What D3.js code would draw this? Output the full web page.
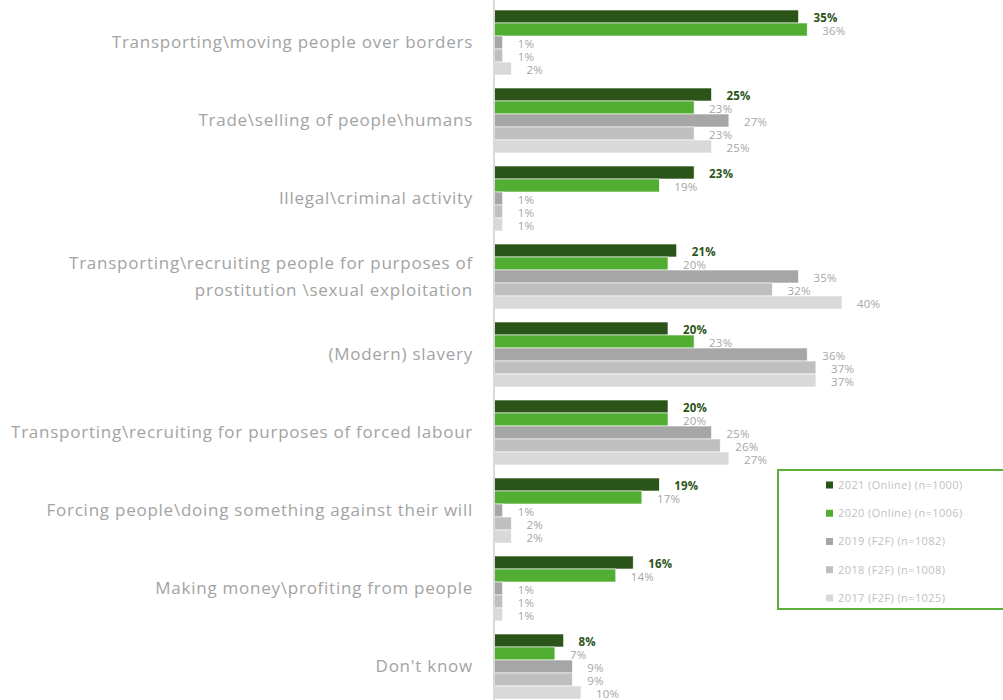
<!DOCTYPE html>
<html>
<head>
<meta charset="utf-8">
<script src="https://cdn.jsdelivr.net/npm/d3@7"></script>
<style>
  html, body { margin: 0; padding: 0; background: #ffffff; }
  svg { display: block; }
</style>
</head>
<body>
<div id="chart"></div>
<script>
// Survey answers: what respondents associate with human trafficking
const categories = [
  ["Transporting\\moving people over borders"],
  ["Trade\\selling of people\\humans"],
  ["Illegal\\criminal activity"],
  ["Transporting\\recruiting people for purposes of", "prostitution \\sexual exploitation"],
  ["(Modern) slavery"],
  ["Transporting\\recruiting for purposes of forced labour"],
  ["Forcing people\\doing something against their will"],
  ["Making money\\profiting from people"],
  ["Don't know"]
];

const seriesNames = [
  "2021 (Online) (n=1000)",
  "2020 (Online) (n=1006)",
  "2019 (F2F) (n=1082)",
  "2018 (F2F) (n=1008)",
  "2017 (F2F) (n=1025)"
];

const values2021 = [35, 25, 23, 21, 20, 20, 19, 16, 8];
const values2020 = [36, 23, 19, 20, 23, 20, 17, 14, 7];
const values2019 = [1, 27, 1, 35, 36, 25, 1, 1, 9];
const values2018 = [1, 23, 1, 32, 37, 26, 2, 1, 9];
const values2017 = [2, 25, 1, 40, 37, 27, 2, 1, 10];

const seriesColors = ["#2b5419", "#52ae32", "#a6a6a6", "#bfbfbf", "#d9d9d9"];

const allSeries = [values2021, values2020, values2019, values2018, values2017];

const width = 1003, height = 700;
const svg = d3.select("#chart").append("svg")
  .attr("width", width).attr("height", height);

const x = d3.scaleLinear().domain([0, 40]).range([494, 842]);

const y = d3.scaleBand()
  .domain(d3.range(categories.length))
  .range([3.5, 705.5])
  .paddingInner(1 / 6)
  .paddingOuter(1 / 12);

const ySub = d3.scaleBand()
  .domain(d3.range(seriesNames.length))
  .range([0, y.bandwidth()]);

// Category labels on the left
const catLabel = svg.append("g").selectAll("text")
  .data(categories)
  .join("text")
  .attr("text-anchor", "end")
  .attr("font-family", "'Open Sans', sans-serif")
  .attr("font-size", 17)
  .attr("letter-spacing", 0.75)
  .attr("fill", "#a3a3a3")
  .attr("transform", (d, i) => `translate(473, ${y(i) + y.bandwidth() / 2})`);

catLabel.each(function (lines) {
  const t = d3.select(this);
  const lh = 27;
  lines.forEach((line, k) => {
    t.append("tspan")
      .attr("x", 0)
      .attr("y", (k - (lines.length - 1) / 2) * lh)
      .attr("dy", "0.35em")
      .text(line);
  });
});

// Bars and value labels
const groups = svg.append("g").selectAll("g")
  .data(categories.map((c, i) => i))
  .join("g")
  .attr("transform", i => `translate(0, ${y(i)})`);

groups.selectAll("rect")
  .data(i => allSeries.map((s, k) => ({ k, v: s[i] })))
  .join("rect")
  .attr("x", x(0))
  .attr("y", d => ySub(d.k))
  .attr("width", d => x(d.v) - x(0))
  .attr("height", ySub.bandwidth())
  .attr("fill", d => seriesColors[d.k])
  .attr("stroke", "#ffffff")
  .attr("stroke-width", 0.6);

groups.selectAll("text")
  .data(i => allSeries.map((s, k) => ({ k, v: s[i] })))
  .join("text")
  .attr("x", d => x(d.v) + 15)
  .attr("y", d => ySub(d.k) + ySub.bandwidth() / 2)
  .attr("dy", "0.45em")
  .attr("font-family", "'Open Sans', sans-serif")
  .attr("font-size", 11.5)
  .attr("letter-spacing", 0.2)
  .attr("font-weight", d => d.k === 0 ? "bold" : "normal")
  .attr("fill", d => d.k === 0 ? "#2b5419" : "#a6a6a6")
  .text(d => d.v + "%");

// Vertical baseline
svg.append("line")
  .attr("x1", x(0)).attr("x2", x(0))
  .attr("y1", 0).attr("y2", height)
  .attr("stroke", "#d9d9d9")
  .attr("stroke-width", 2);

// Legend
const legend = svg.append("g");
legend.append("rect")
  .attr("x", 778).attr("y", 470)
  .attr("width", 240).attr("height", 139)
  .attr("fill", "#ffffff")
  .attr("stroke", "#5cb03a")
  .attr("stroke-width", 2);

const legendY = d3.scalePoint()
  .domain(d3.range(seriesNames.length))
  .range([485, 598]);

const li = legend.selectAll("g.item")
  .data(seriesNames)
  .join("g")
  .attr("class", "item")
  .attr("transform", (d, i) => `translate(826, ${legendY(i)})`);

li.append("rect")
  .attr("x", 0).attr("y", -3.5)
  .attr("width", 7).attr("height", 7)
  .attr("fill", (d, i) => seriesColors[i]);

li.append("text")
  .attr("x", 12)
  .attr("dy", "0.35em")
  .attr("font-family", "'Open Sans', sans-serif")
  .attr("font-size", 11)
  .attr("letter-spacing", 0.4)
  .attr("fill", "#bfbfbf")
  .text(d => d);
</script>
</body>
</html>
